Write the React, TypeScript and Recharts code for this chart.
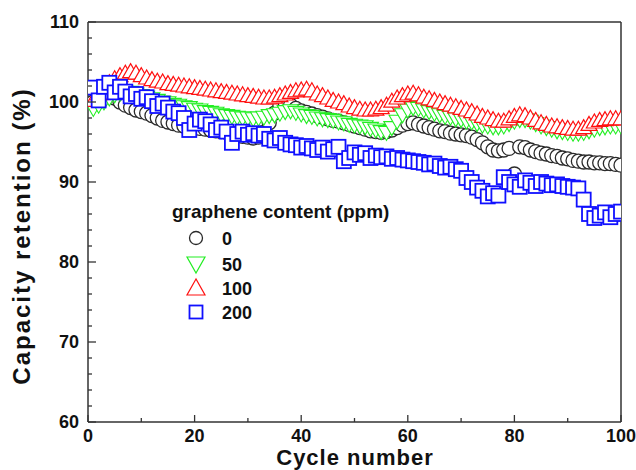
import React from 'react'
import { ScatterChart, Scatter, XAxis, YAxis, ReferenceLine, Legend } from 'recharts'

const cycles = [
  1, 2, 3, 4, 5, 6, 7, 8, 9, 10, 11, 12, 13, 14, 15, 16, 17, 18, 19, 20,
  21, 22, 23, 24, 25, 26, 27, 28, 29, 30, 31, 32, 33, 34, 35, 36, 37, 38, 39, 40,
  41, 42, 43, 44, 45, 46, 47, 48, 49, 50, 51, 52, 53, 54, 55, 56, 57, 58, 59, 60,
  61, 62, 63, 64, 65, 66, 67, 68, 69, 70, 71, 72, 73, 74, 75, 76, 77, 78, 79, 80,
  81, 82, 83, 84, 85, 86, 87, 88, 89, 90, 91, 92, 93, 94, 95, 96, 97, 98, 99, 100,
]

// capacity retention (%) per cycle, by graphene content
const ppm0 = [
  100.0, 100.3, 100.6, 100.8, 100.5, 100.0, 99.6, 99.3, 99.0, 98.8, 98.6, 98.3, 98.0, 97.7, 97.5, 97.3, 97.1, 97.0, 96.9, 96.8,
  96.7, 96.6, 96.5, 96.4, 96.3, 96.2, 96.0, 95.8, 95.7, 95.6, 95.5, 95.6, 96.2, 97.4, 98.6, 99.6, 99.9, 99.6, 99.2, 98.9,
  98.7, 98.5, 98.3, 98.1, 97.9, 97.7, 97.6, 97.4, 97.2, 97.0, 96.8, 96.6, 96.4, 96.3, 96.2, 96.3, 96.5, 96.8, 97.1, 97.3,
  97.4, 97.2, 97.0, 96.8, 96.6, 96.4, 96.3, 96.1, 96.0, 95.9, 95.8, 95.6, 95.3, 94.9, 94.4, 94.0, 93.9, 94.0, 94.2, 91.0,
  94.4, 94.3, 94.0, 93.8, 93.6, 93.5, 93.3, 93.2, 93.0, 92.9, 92.7, 92.6, 92.5, 92.5, 92.4, 92.4, 92.3, 92.3, 92.2, 92.1,
]
const ppm50 = [
  99.2, 99.6, 100.0, 100.5, 100.9, 101.1, 101.2, 101.2, 101.0, 100.8, 100.6, 100.4, 100.2, 100.0, 99.9, 99.7, 99.6, 99.4, 99.3, 99.1,
  99.0, 98.8, 98.7, 98.6, 98.4, 98.3, 98.2, 98.1, 98.0, 98.0, 97.9, 98.0, 98.1, 98.3, 98.4, 98.6, 98.8, 98.9, 98.7, 98.5,
  98.3, 98.2, 98.0, 97.9, 97.8, 97.7, 97.5, 97.4, 97.2, 97.1, 97.0, 96.9, 96.7, 96.5, 96.3, 96.2, 96.8, 97.6, 98.4, 99.0,
  99.3, 99.2, 99.0, 98.8, 98.6, 98.4, 98.2, 98.1, 97.9, 97.8, 97.6, 97.5, 97.3, 97.1, 97.0, 96.9, 96.9, 97.0, 97.3, 97.6,
  97.8, 97.8, 97.6, 97.3, 97.0, 96.8, 96.6, 96.4, 96.3, 96.2, 96.1, 96.1, 96.2, 96.4, 96.6, 96.8, 96.9, 97.0, 97.0, 97.0,
]
const ppm100 = [
  100.2, 101.0, 101.8, 102.4, 102.9, 103.3, 103.6, 103.8, 103.6, 103.3, 103.0, 102.8, 102.6, 102.5, 102.3, 102.2, 102.1, 102.0, 101.9, 101.8,
  101.7, 101.6, 101.5, 101.4, 101.3, 101.2, 101.1, 101.0, 100.9, 100.8, 100.7, 100.6, 100.5, 100.5, 100.6, 100.8, 101.0, 101.2, 101.4, 101.5,
  101.6, 101.4, 101.0, 100.8, 100.5, 100.2, 100.0, 99.8, 99.5, 99.3, 99.1, 99.0, 99.0, 99.1, 99.3, 99.6, 100.1, 100.5, 100.8, 101.0,
  101.1, 100.9, 100.6, 100.4, 100.2, 100.0, 99.8, 99.6, 99.4, 99.2, 99.0, 98.8, 98.5, 98.2, 98.0, 97.8, 97.6, 97.6, 97.9, 98.2,
  98.4, 98.3, 98.0, 97.7, 97.4, 97.2, 97.0, 96.9, 96.8, 96.7, 96.6, 96.6, 96.8, 97.2, 97.5, 97.7, 97.8, 97.9, 97.9, 97.9,
]
const ppm200 = [
  101.8, 100.2, 101.9, 102.4, 101.2, 101.9, 101.3, 100.7, 101.0, 100.4, 100.6, 100.1, 99.5, 99.8, 99.3, 98.8, 98.6, 98.0, 96.5, 97.3,
  97.8, 97.6, 97.2, 96.5, 96.8, 96.3, 94.9, 96.0, 96.3, 95.9, 96.1, 95.8, 96.0, 95.4, 95.2, 95.5, 94.9, 94.7, 94.6, 94.3,
  94.5, 94.2, 94.0, 94.3, 93.8, 94.1, 94.4, 92.6, 93.0, 93.7, 93.4, 93.6, 93.0, 93.3, 93.1, 93.2, 92.9, 93.0, 92.8, 92.7,
  92.6, 92.5, 92.4, 92.2, 92.3, 92.0, 91.8, 91.9, 91.6, 91.4, 90.5, 90.0, 89.3, 88.9, 88.2, 88.6, 88.3, 90.6, 90.0, 89.7,
  89.4, 90.2, 89.9, 89.5, 90.0, 89.8, 89.6, 89.7, 89.5, 89.4, 89.3, 89.2, 87.8, 86.0, 85.5, 85.8, 86.2, 85.6, 86.0, 86.3,
]

const xTicks = [0, 10, 20, 30, 40, 50, 60, 70, 80, 90, 100]
const yTicks = [60, 62, 64, 66, 68, 70, 72, 74, 76, 78, 80, 82, 84, 86, 88, 90, 92, 94, 96, 98, 100, 102, 104, 106, 108, 110]
const legendTitle = 'graphene content (ppm)'
const legendLabels = ['0', '50', '100', '200']

const FONT = '"Liberation Sans", Arial, sans-serif'
const AXIS = '#333'

const toPoints = (vals: number[]) => vals.map((y, i) => ({ x: cycles[i], y }))

const circleShape = (p: any) => (
  <circle cx={p.cx} cy={p.cy} r={7} fill="#fff" stroke="#2a2a2a" strokeWidth={1.3} />
)
const downShape = (p: any) => (
  <polygon
    points={`${p.cx - 8},${p.cy - 6} ${p.cx + 8},${p.cy - 6} ${p.cx},${p.cy + 8}`}
    fill="#fff" stroke="#22ee22" strokeWidth={1.1}
  />
)
const upShape = (p: any) => (
  <polygon
    points={`${p.cx},${p.cy - 8} ${p.cx - 8},${p.cy + 6} ${p.cx + 8},${p.cy + 6}`}
    fill="#fff" stroke="#ff1010" strokeWidth={1.2}
  />
)
const squareShape = (p: any) => (
  <rect x={p.cx - 7} y={p.cy - 7} width={14} height={14} fill="#fff" stroke="#1010ff" strokeWidth={1.8} />
)

function XTick(props: any) {
  const { x, y, payload } = props
  const v = payload.value
  const major = v % 20 === 0
  return (
    <g>
      <line x1={x} y1={y} x2={x} y2={y - (major ? 7 : 4)} stroke={AXIS} strokeWidth={1.3} />
      {major && (
        <text x={x} y={y + 20} textAnchor="middle" fontFamily={FONT} fontWeight="bold" fontSize={18} fill="#111">
          {v}
        </text>
      )}
    </g>
  )
}

function YTick(props: any) {
  const { x, y, payload } = props
  const v = payload.value
  const major = v % 10 === 0
  return (
    <g>
      <line x1={x} y1={y} x2={x + (major ? 8 : 4)} y2={y} stroke={AXIS} strokeWidth={1.3} />
      {major && (
        <text x={x - 9} y={y + 6} textAnchor="end" fontFamily={FONT} fontWeight="bold" fontSize={18} fill="#111">
          {v}
        </text>
      )}
    </g>
  )
}

function renderLegend() {
  const rows = [238, 264, 288, 312]
  const mx = 196
  return (
    <svg width={636} height={470} style={{ position: 'absolute', left: 0, top: 0 }}>
      <text x={172} y={218} fontFamily={FONT} fontWeight="bold" fontSize={19} fill="#111">{legendTitle}</text>
      <circle cx={mx} cy={rows[0]} r={6.5} fill="#fff" stroke="#2a2a2a" strokeWidth={1.3} />
      <polygon points={`${mx - 9},${rows[1] - 7} ${mx + 9},${rows[1] - 7} ${mx},${rows[1] + 9}`} fill="#fff" stroke="#22ee22" strokeWidth={1.2} />
      <polygon points={`${mx},${rows[2] - 9} ${mx - 9},${rows[2] + 7} ${mx + 9},${rows[2] + 7}`} fill="#fff" stroke="#ff1010" strokeWidth={1.2} />
      <rect x={mx - 6.5} y={rows[3] - 6.5} width={13} height={13} fill="#fff" stroke="#1010ff" strokeWidth={1.8} />
      {legendLabels.map((l, i) => (
        <text key={l} x={222} y={rows[i] + 6.5} fontFamily={FONT} fontWeight="bold" fontSize={18} fill="#111">{l}</text>
      ))}
    </svg>
  )
}

export default function App() {
  return (
    <div style={{ position: 'absolute', left: 0, top: 0, width: 636, height: 470, background: '#fff' }}>
      <ScatterChart width={636} height={470} margin={{ top: 22, right: 15, bottom: 0, left: 0 }}>
        <XAxis
          type="number" dataKey="x" domain={[0, 100]} ticks={xTicks} interval={0} allowDataOverflow
          height={48} tickSize={0} tickMargin={0} tickLine={false} tick={<XTick />}
          axisLine={{ stroke: AXIS, strokeWidth: 1.5 }}
          label={{
            content: () => (
              <text x={355} y={465} textAnchor="middle" fontFamily={FONT} fontWeight="bold" fontSize={22} letterSpacing={1} fill="#111">
                Cycle number
              </text>
            ),
          }}
        />
        <YAxis
          type="number" dataKey="y" domain={[60, 110]} ticks={yTicks} interval={0} allowDataOverflow
          width={88} tickSize={0} tickMargin={0} tickLine={false} tick={<YTick />}
          axisLine={{ stroke: AXIS, strokeWidth: 1.5 }}
          label={{
            content: () => (
              <text transform="translate(30,236) rotate(-90)" textAnchor="middle" fontFamily={FONT} fontWeight="bold" fontSize={24} letterSpacing={2} fill="#111">
                Capacity retention (%)
              </text>
            ),
          }}
        />
        <ReferenceLine y={110} stroke={AXIS} strokeWidth={1.5} />
        <ReferenceLine x={100} stroke={AXIS} strokeWidth={1.5} />
        <Scatter name="0" data={toPoints(ppm0)} shape={circleShape} isAnimationActive={false} />
        <Scatter name="50" data={toPoints(ppm50)} shape={downShape} isAnimationActive={false} />
        <Scatter name="100" data={toPoints(ppm100)} shape={upShape} isAnimationActive={false} />
        <Scatter name="200" data={toPoints(ppm200)} shape={squareShape} isAnimationActive={false} />
        <Legend
          layout="horizontal" verticalAlign="middle" align="center"
          wrapperStyle={{ left: 0, top: 0, width: 636, height: 470, pointerEvents: 'none' }}
          content={renderLegend}
        />
      </ScatterChart>
    </div>
  )
}
